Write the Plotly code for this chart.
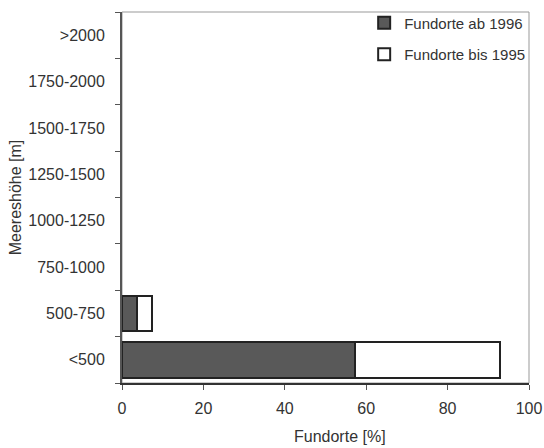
import plotly.graph_objects as go

categories = ["<500", "500-750", "750-1000", "1000-1250", "1250-1500", "1500-1750", "1750-2000", ">2000"]
ab_1996 = [57.3, 3.7, None, None, None, None, None, None]
bis_1995 = [35.6, 3.6, None, None, None, None, None, None]
x_ticks = [0, 20, 40, 60, 80, 100]

FONT = "Arial, Liberation Sans, sans-serif"
TXT = "#333333"

fig = go.Figure()
fig.add_trace(go.Bar(
    y=categories, x=ab_1996, orientation="h", name="Fundorte ab 1996",
    marker=dict(color="#595959", line=dict(color="#222222", width=2)),
    legendgroup="a",
))
fig.add_trace(go.Bar(
    y=categories, x=bis_1995, orientation="h", name="Fundorte bis 1995",
    marker=dict(color="#ffffff", line=dict(color="#222222", width=2)),
    legendgroup="b",
))

fig.update_layout(
    width=544, height=448,
    margin=dict(l=122, r=15, t=6, b=65),
    paper_bgcolor="white", plot_bgcolor="white",
    barmode="stack", bargap=0.23,
    font=dict(family=FONT, size=16, color=TXT),
    showlegend=True,
    legend=dict(
        x=0.595, y=1.015, xanchor="left", yanchor="top",
        bgcolor="rgba(0,0,0,0)", font=dict(size=15, color=TXT),
        traceorder="grouped", tracegroupgap=9,
    ),
    xaxis=dict(
        range=[0, 100], tickvals=x_ticks, showgrid=False, zeroline=False,
        showline=True, linecolor="#333333", linewidth=2,
        ticks="outside", ticklen=5, tickcolor="#555555", tickwidth=1,
        tickfont=dict(size=16, color=TXT), ticklabelstandoff=5,
        automargin=False, fixedrange=True,
    ),
    yaxis=dict(
        type="category", categoryorder="array", categoryarray=categories,
        range=[-0.5, 7.5], showgrid=False, zeroline=False,
        showline=True, linecolor="#555555", linewidth=2,
        ticks="outside", ticklen=5, tickcolor="#555555", tickwidth=1,
        tickson="boundaries", ticklabelstandoff=12,
        title=dict(text="Meereshöhe [m]", font=dict(size=16, color=TXT), standoff=3),
        tickfont=dict(size=16, color=TXT),
        automargin=False, fixedrange=True,
    ),
    annotations=[dict(text="Fundorte [%]", xref="paper", yref="paper",
                      x=0.536, y=-0.145, xanchor="center", yanchor="middle",
                      showarrow=False, font=dict(size=16, color=TXT))],
    shapes=[dict(type="rect", xref="paper", yref="paper", x0=0, x1=1, y0=0, y1=1,
                 line=dict(color="#999999", width=1), layer="below")],
)

fig.write_html("out.html", config={"displayModeBar": False},
               post_script="document.body.style.margin='0';")
